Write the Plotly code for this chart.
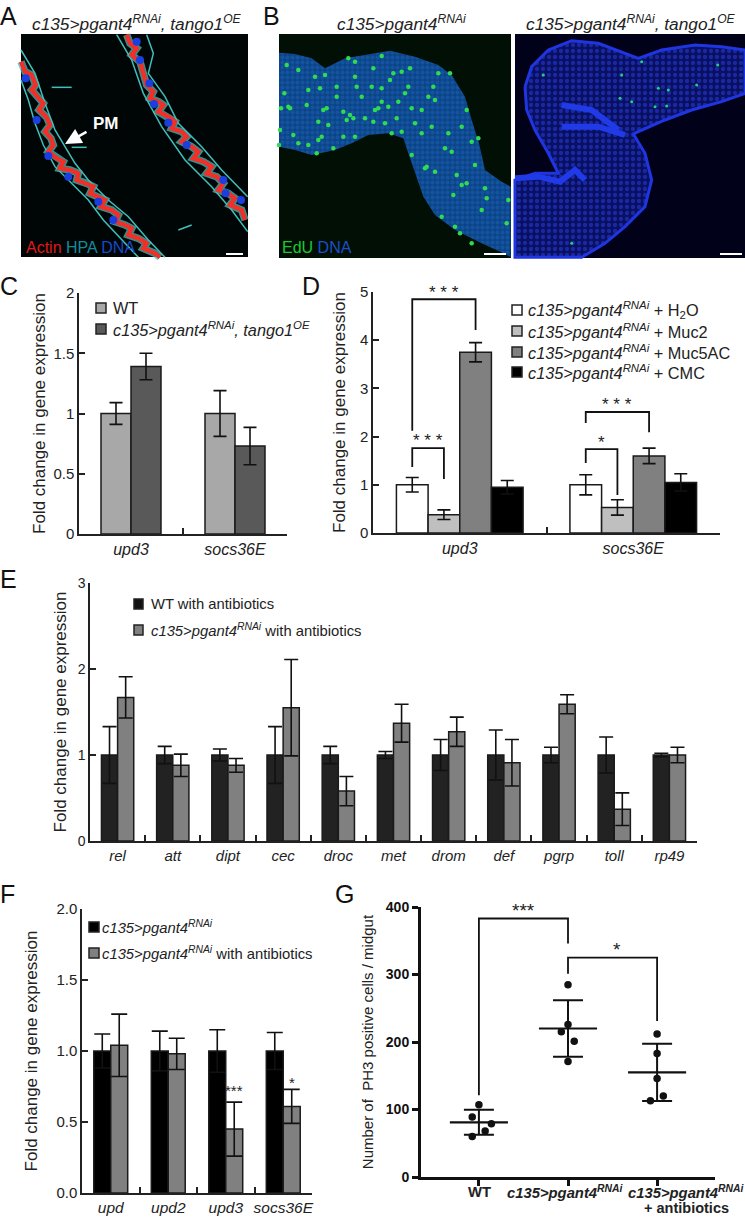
import plotly.graph_objects as go

W, H = 745, 1218
FONT = "Liberation Sans"
INK = "#222222"
PG = "c135&gt;pgant4<sup>RNAi</sup>"

# ---------- data ----------
c_cats = ["upd3", "socs36E"]
c_wt = [1.0, 1.0]
c_wt_err = [0.09, 0.19]
c_oe = [1.39, 0.73]
c_oe_err = [0.11, 0.155]

d_cats = ["upd3", "socs36E"]
d_h2o = [1.0, 1.0]
d_h2o_err = [0.15, 0.21]
d_muc2 = [0.38, 0.53]
d_muc2_err = [0.1, 0.16]
d_muc5 = [3.75, 1.6]
d_muc5_err = [0.2, 0.16]
d_cmc = [0.95, 1.05]
d_cmc_err = [0.14, 0.18]

e_cats = ["rel", "att", "dipt", "cec", "droc", "met", "drom", "def", "pgrp", "toll", "rp49"]
e_wt = [1, 1, 1, 1, 1, 1, 1, 1, 1, 1, 1]
e_wt_err = [0.33, 0.1, 0.07, 0.33, 0.1, 0.04, 0.18, 0.29, 0.09, 0.21, 0.02]
e_pg = [1.67, 0.88, 0.88, 1.55, 0.58, 1.37, 1.27, 0.91, 1.59, 0.37, 1.0]
e_pg_err = [0.24, 0.13, 0.08, 0.56, 0.17, 0.22, 0.17, 0.27, 0.11, 0.19, 0.09]

f_cats = ["upd", "upd2", "upd3", "socs36E"]
f_pg = [1, 1, 1, 1]
f_pg_err = [0.12, 0.14, 0.15, 0.13]
f_ab = [1.04, 0.98, 0.45, 0.61]
f_ab_err = [0.22, 0.11, 0.19, 0.12]

g_x_wt = [0, -0.075, 0.14, 0.07, -0.075]
g_y_wt = [107, 89, 79, 68, 60]
g_x_pg = [1, 1, 0.925, 1.07, 1]
g_y_pg = [285, 226, 215, 201, 171]
g_x_ab = [2, 2, 2, 2.07, 1.925]
g_y_ab = [212, 183, 146, 120, 113]
g_mean = [81, 220, 155]
g_sd = [18.5, 42, 42.5]

# ---------- drawing of the micrographs, in page pixels ----------
a_red_left = [(18,95),(30,125),(50,135),(62,165),(50,180),(70,205),(85,220),(72,240),(95,262),(105,285),(90,305),(108,325),(115,345),(100,365),(125,385),(145,395),(135,415),(165,420),(190,430),(185,450),(215,460),(235,470),(225,490),(250,500),(270,510),(258,530),(290,540),(310,555),(300,575),(330,585),(350,595),(340,615),(370,625),(395,640),(385,655),(420,670),(435,682)]
a_red_right = [(335,14),(345,40),(365,55),(350,75),(375,95),(385,130),(395,165),(415,185),(405,205),(430,215),(445,225),(430,245),(460,260),(480,275),(470,295),(500,305),(515,320),(500,335),(530,350),(550,365),(535,385),(565,395),(590,410),(575,430),(605,440),(625,460),(610,480),(640,490),(660,505),(645,525),(680,540),(690,570)]
a_cyan = [
    [(18,150),(40,210),(60,280),(85,345),(120,410),(170,460),(220,510),(265,570),(320,630),(370,682)],
    [(18,60),(60,130),(90,220),(120,300),(150,350),(180,400),(220,450),(280,510),(340,560),(400,630),(450,682)],
    [(395,14),(415,70),(400,130),(450,200),(490,280),(560,350),(620,420),(698,500)],
    [(305,14),(350,90),(385,190),(440,290),(510,390),(590,470),(650,540),(698,605)],
    [(110,172),(170,172)],
    [(170,352),(215,352)],
    [(490,600),(530,585)],
]
a_nuclei = [(32,145),(65,270),(100,378),(160,440),(250,515),(295,570),(365,35),(375,90),(403,160),(417,222),(460,278),(515,345),(625,450),(632,490),(678,510)]
b1_tissue = [(12,68),(60,72),(110,85),(150,115),(210,85),(280,72),(345,62),(420,80),(490,105),(530,135),(570,200),(590,270),(612,340),(630,420),(680,455),(707,470),(707,682),(690,672),(620,640),(540,600),(480,555),(445,500),(420,430),(400,370),(385,325),(340,310),(280,315),(230,340),(180,360),(110,375),(60,360),(12,350),(12,68)]
b1_green = [(28,190),(40,230),(18,235),(45,235),(35,105),(70,120),(15,300),(12,345),(55,315),(135,175),(155,235),(145,240),(130,275),(160,285),(140,320),(130,330),(205,245),(225,255),(235,265),(215,270),(185,200),(240,140),(240,95),(220,85),(295,115),(320,78),(355,130),(380,125),(405,115),(345,150),(290,170),(320,175),(320,215),(310,235),(300,240),(340,230),(370,215),(410,235),(440,240),(460,200),(480,210),(490,130),(525,130),(475,170),(270,265),(295,275),(330,280),(365,265),(380,305),(350,310),(205,320),(240,320),(175,355),(125,370),(70,340),(100,345),(410,375),(455,410),(450,415),(510,355),(530,365),(560,290),(590,335),(610,325),(575,240),(600,405),(545,435),(560,465),(575,460),(535,495),(630,475),(635,505),(700,510),(620,540),(695,580),(500,560),(540,590),(590,640),(555,610),(480,425),(470,290),(520,310),(440,310),(260,200),(245,170),(185,170),(100,180),(95,225),(120,140),(150,135),(390,190),(400,170),(420,280)]
b2_tissue = [(60,170),(80,110),(130,60),(200,32),(280,40),(350,65),(400,85),(470,60),(570,45),(650,50),(720,60),(720,190),(650,215),(560,240),(480,270),(400,305),(385,312),(420,370),(440,450),(420,530),(360,590),(300,640),(230,682),(30,682),(30,450),(90,430),(160,430),(130,370),(90,300),(65,240),(60,170)]
b2_bands = [
    [(170,225),(260,240),(340,300)],
    [(30,445),(100,440),(165,455),(210,420),(240,450)],
    [(170,290),(280,290),(360,315)],
]
b2_green = [(115,135),(350,135),(460,175),(490,180),(345,205),(380,215),(450,230),(485,228),(575,165),(638,105),(410,95),(200,640)]


def page(points, ox, oy):
    return [ox + p[0] / 3 for p in points], [oy + p[1] / 3 for p in points]


def dom_x(a, b):
    return [a / W, b / W]


def dom_y(top, bottom):
    return [1 - bottom / H, 1 - top / H]


fig = go.Figure()
shapes = []
ann = []


def line_trace(xs, ys, color, width, opacity=1.0):
    fig.add_trace(go.Scatter(x=xs, y=ys, mode="lines", line=dict(color=color, width=width),
                             opacity=opacity, xaxis="x", yaxis="y", hoverinfo="skip", showlegend=False))


def dots(xs, ys, color, size):
    fig.add_trace(go.Scatter(x=xs, y=ys, mode="markers", marker=dict(color=color, size=size, line=dict(width=0)),
                             xaxis="x", yaxis="y", hoverinfo="skip", showlegend=False))


def rect(x0, y0, x1, y1, fill):
    shapes.append(dict(type="rect", xref="x", yref="y", x0=x0, y0=y0, x1=x1, y1=y1,
                       fillcolor=fill, line=dict(width=0), layer="below"))


def text(x, y, s, size, color=INK, anchor="left", xref="x", yref="y", vanchor="middle"):
    ann.append(dict(x=x, y=y, xref=xref, yref=yref, text=s, showarrow=False, xanchor=anchor, yanchor=vanchor,
                    font=dict(family=FONT, size=size, color=color), borderpad=0, borderwidth=0))


# micrograph A
rect(21, 34, 248, 257, "#000606")
for seg in a_cyan:
    xs, ys = page(seg, 15, 30)
    line_trace(xs, ys, "#3fc0bc", 1.5)
for seg in (a_red_left, a_red_right):
    xs, ys = page(seg, 15, 30)
    line_trace(xs, ys, "#3fc0bc", 7.5, 0.75)
    line_trace(xs, ys, "#f03028", 4.5)
xs, ys = page(a_nuclei, 15, 30)
dots(xs, ys, "#1a3fe0", 8)
line_trace([226, 243], [254, 254], "#ffffff", 2)

# micrograph B left
rect(279, 34, 511, 258, "#020f04")
xs, ys = page(b1_tissue, 275, 30)
fig.add_trace(go.Scatter(x=xs, y=ys, mode="lines", fill="toself", line=dict(width=0, color="#1a66c0"),
                         fillcolor="#0f4c98",
                         fillpattern=dict(shape=".", size=5, solidity=0.5, fgcolor="#1864b8", bgcolor="#0d4488"),
                         xaxis="x", yaxis="y", hoverinfo="skip", showlegend=False))
xs, ys = page(b1_green, 275, 30)
dots(xs, ys, "#2fdc50", 4.5)
line_trace([484, 506], [254, 254], "#ffffff", 2)

# micrograph B right
rect(515, 34, 745, 258, "#01011a")
xs, ys = page(b2_tissue, 505, 30)
fig.add_trace(go.Scatter(x=xs, y=ys, mode="lines", fill="toself", line=dict(width=3, color="#1f35e0"),
                         fillcolor="#0a1060",
                         fillpattern=dict(shape=".", size=6, solidity=0.4, fgcolor="#2a40e8", bgcolor="#0a1060"),
                         xaxis="x", yaxis="y", hoverinfo="skip", showlegend=False))
for seg in b2_bands:
    xs, ys = page(seg, 505, 30)
    line_trace(xs, ys, "#1f3ae6", 6)
xs, ys = page(b2_green, 505, 30)
dots(xs, ys, "#20d080", 3)
line_trace([720, 742], [254, 254], "#ffffff", 2)

# arrow and labels in the micrographs
ann.append(dict(x=65, y=144, ax=88, ay=131, xref="x", yref="y", axref="x", ayref="y", text="", showarrow=True,
                arrowhead=2, arrowsize=1.3, arrowwidth=2.5, arrowcolor="#ffffff"))
text(93, 123, "<b>PM</b>", 17, "#ffffff")
text(26, 247, "<span style='color:#e01818'>Actin</span> <span style='color:#128a9c'>HPA</span> <span style='color:#1a48c8'>DNA</span>", 16)
text(282, 247, "<span style='color:#1cc832'>EdU</span> <span style='color:#1a50c8'>DNA</span>", 16)

# titles and panel letters
text(137, 23, "<i>" + PG + ", tango1<sup>OE</sup></i>", 17.3, anchor="center")
text(401, 23, "<i>" + PG + "</i>", 17.3, anchor="center")
text(631, 23, "<i>" + PG + ", tango1<sup>OE</sup></i>", 17.3, anchor="center")
for letter, lx, ly in [("A", 0, 16), ("B", 263, 16), ("C", 0, 286), ("D", 302, 286), ("E", 0, 579), ("F", 0, 894), ("G", 335, 894)]:
    text(lx, ly, letter, 25, "#111111")


def bar_group(xaxis, yaxis, cats, series, group_w, err_w, err_t=1.6):
    w = group_w / len(series)
    for j, (name, vals, errs, color) in enumerate(series):
        fig.add_trace(go.Bar(
            x=cats, y=vals, name=name, xaxis=xaxis, yaxis=yaxis, width=w,
            offset=(j - len(series) / 2) * w, marker=dict(color=color, line=dict(color="#1a1a1a", width=1.5)),
            error_y=dict(type="data", array=errs, color="#111111", thickness=err_t, width=err_w),
            showlegend=False))


bar_group("x2", "y2", c_cats, [("WT", c_wt, c_wt_err, "#a8a8a8"), ("c135>pgant4RNAi, tango1OE", c_oe, c_oe_err, "#595959")], 0.577, 6.5)
bar_group("x3", "y3", d_cats, [("H2O", d_h2o, d_h2o_err, "#ffffff"), ("Muc2", d_muc2, d_muc2_err, "#bfbfbf"),
                               ("Muc5AC", d_muc5, d_muc5_err, "#808080"), ("CMC", d_cmc, d_cmc_err, "#000000")], 0.73, 6.5)
bar_group("x4", "y4", e_cats, [("WT with antibiotics", e_wt, e_wt_err, "#222222"),
                               ("c135>pgant4RNAi with antibiotics", e_pg, e_pg_err, "#808080")], 0.585, 7)
bar_group("x5", "y5", f_cats, [("c135>pgant4RNAi", f_pg, f_pg_err, "#000000"),
                               ("c135>pgant4RNAi with antibiotics", f_ab, f_ab_err, "#808080")], 0.59, 8)


def swatch(x0, yc, w, h, fill):
    shapes.append(dict(type="rect", xref="x", yref="y", x0=x0, x1=x0 + w, y0=yc - h / 2, y1=yc + h / 2,
                       fillcolor=fill, line=dict(color="#222222", width=1.5)))


swatch(96, 308, 10, 10, "#a8a8a8")
text(113, 308, "WT", 16.3)
swatch(96, 329, 10, 10, "#595959")
text(113, 329, "<i>" + PG + ", tango1<sup>OE</sup></i>", 16.3)

for yc, fill, tail in [(310, "#ffffff", " + H<sub>2</sub>O"), (331, "#bfbfbf", " + Muc2"), (352, "#808080", " + Muc5AC"), (372, "#000000", " + CMC")]:
    swatch(512, yc, 10, 10, fill)
    text(528, yc, "<i>" + PG + "</i>" + tail, 16.3)

swatch(134, 604, 9, 10, "#111111")
text(151, 604, "WT with antibiotics", 14.8)
swatch(134, 630, 9, 10, "#808080")
text(151, 630, "<i>" + PG + "</i> with antibiotics", 14.8)

swatch(89, 927, 10, 10, "#000000")
text(102, 927, "<i>" + PG + "</i>", 14.8)
swatch(89, 953, 10, 10, "#808080")
text(102, 953, "<i>" + PG + "</i> with antibiotics", 14.8)


def bracket(xa, ya, x0, x1, y_left, y_top, y_right, lw=1.8):
    shapes.append(dict(type="path", xref=xa, yref=ya,
                       path=f"M {x0} {y_left} L {x0} {y_top} L {x1} {y_top} L {x1} {y_right}",
                       line=dict(color="#111111", width=lw), fillcolor="rgba(0,0,0,0)"))


bw = 0.1825
bracket("x3", "y3", -1.5 * bw, 0.5 * bw, 2.12, 4.85, 4.21)
bracket("x3", "y3", -1.5 * bw, -0.5 * bw, 1.37, 1.76, 1.12)
bracket("x3", "y3", 1 - 1.5 * bw, 1 + 0.5 * bw, 2.28, 2.51, 2.09)
bracket("x3", "y3", 1 - 1.5 * bw, 1 - 0.5 * bw, 1.45, 1.74, 0.79)
text(0 - 0.5 * bw, 4.98, "* * *", 17, anchor="center", xref="x3", yref="y3")
text(0 - bw, 1.92, "* * *", 17, anchor="center", xref="x3", yref="y3")
text(1 - 0.5 * bw, 2.66, "* * *", 17, anchor="center", xref="x3", yref="y3")
text(1 - bw, 1.87, "*", 17, anchor="center", xref="x3", yref="y3")

text(2 + 0.295 / 2, 0.72, "***", 15, anchor="center", xref="x5", yref="y5")
text(3 + 0.295 / 2, 0.78, "*", 15, anchor="center", xref="x5", yref="y5")

# panel G
for xs, ys in [(g_x_wt, g_y_wt), (g_x_pg, g_y_pg), (g_x_ab, g_y_ab)]:
    fig.add_trace(go.Scatter(x=xs, y=ys, mode="markers", xaxis="x6", yaxis="y6",
                             marker=dict(color="#111111", size=7.5), showlegend=False))
for i, (m, s) in enumerate(zip(g_mean, g_sd)):
    fig.add_trace(go.Scatter(x=[i], y=[m], mode="markers", marker=dict(size=0.1, color="#111111"), xaxis="x6", yaxis="y6",
                             error_y=dict(type="data", array=[s], color="#111111", thickness=2, width=15), showlegend=False))
    fig.add_trace(go.Scatter(x=[i - 0.326, i + 0.326], y=[m, m], mode="lines", xaxis="x6", yaxis="y6",
                             line=dict(color="#111111", width=2.2), showlegend=False))
bracket("x6", "y6", 0, 1, 121, 383, 346)
bracket("x6", "y6", 1, 2, 301, 325, 231)
text(0.5, 395, "***", 19, anchor="center", xref="x6", yref="y6")
text(1.55, 337, "*", 19, anchor="center", xref="x6", yref="y6")
text(479.5, 1192, "<b>WT</b>", 14.8, anchor="center")
text(565, 1192, "<b><i>" + PG + "</i></b>", 14.8, anchor="center")
text(686, 1192, "<b><i>" + PG + "</i></b>", 14.8, anchor="center")
text(686, 1208, "<b>+ antibiotics</b>", 14.5, anchor="center")


def cat_axis(left, right, bottom, anchor, n, size):
    return dict(domain=dom_x(left, right), anchor=anchor, range=[-0.5, n - 0.5], type="category", showgrid=False,
                zeroline=False, showline=True, linecolor="#222222", linewidth=1.5, ticks="inside", tickson="boundaries",
                ticklen=6, tickwidth=1.5, tickcolor="#222222", tickangle=0, automargin=False,
                tickfont=dict(family=FONT, size=size, color=INK, style="italic"))


def val_axis(top, bottom, anchor, rng, dtick, size, title, title_size, standoff, fmt=None):
    return dict(domain=dom_y(top, bottom), anchor=anchor, range=rng, dtick=dtick, showgrid=False, zeroline=False,
                showline=True, linecolor="#222222", linewidth=1.5, ticks="inside", ticklen=6, tickwidth=1.5, tickcolor="#222222",
                tickfont=dict(family=FONT, size=size, color=INK), tickformat=fmt, automargin=False,
                title=dict(text=title, font=dict(family=FONT, size=title_size, color=INK), standoff=standoff))


YT = "Fold change in gene expression"
fig.update_layout(
    width=W, height=H, autosize=False, margin=dict(l=0, r=0, t=0, b=0, pad=0, autoexpand=False),
    paper_bgcolor="#ffffff", plot_bgcolor="rgba(0,0,0,0)", showlegend=False, barmode="overlay",
    font=dict(family=FONT, color=INK),
    xaxis=dict(domain=[0, 1], range=[0, W], visible=False, anchor="y", fixedrange=True),
    yaxis=dict(domain=[0, 1], range=[H, 0], visible=False, anchor="x", fixedrange=True),
    xaxis2=cat_axis(79, 287, 534, "y2", 2, 16),
    yaxis2=val_axis(293, 534, "x2", [0, 2], 0.5, 15, YT, 17, 3),
    xaxis3=cat_axis(373, 720, 533, "y3", 2, 16),
    yaxis3=val_axis(292, 533, "x3", [0, 5], 1, 15, YT, 17, 10),
    xaxis4=cat_axis(90, 697, 841, "y4", 11, 15),
    yaxis4=val_axis(583, 841, "x4", [0, 3], 1, 14, YT, 17, 7),
    xaxis5=cat_axis(82, 312, 1193, "y5", 4, 15.5),
    yaxis5=val_axis(909, 1193, "x5", [0, 2], 0.5, 15, YT, 17, 14, ".1f"),
    xaxis6=dict(domain=dom_x(421, 715), anchor="y6", range=[-0.65, 2.65], showgrid=False, zeroline=False, showline=True,
                linecolor="#111111", linewidth=3, ticks="outside", ticklen=6, tickwidth=2.5, tickcolor="#111111",
                tickvals=[0, 1, 2], showticklabels=False),
    yaxis6=dict(domain=dom_y(907, 1177), anchor="x6", range=[0, 400], dtick=100, showgrid=False, zeroline=False, showline=True,
                linecolor="#111111", linewidth=3, ticks="outside", ticklen=6, tickwidth=2.5, tickcolor="#111111",
                tickfont=dict(family=FONT, size=14, color="#111111", weight="bold"),
                title=dict(text="Number of  PH3 positive cells / midgut", font=dict(family=FONT, size=15, color=INK), standoff=9)),
    shapes=shapes, annotations=ann,
)
POST = ("var g=document.querySelector('.plotly-graph-div');g.style.position='fixed';g.style.top='0';g.style.left='0';"
        "document.body.style.margin='0';document.body.style.height='1218px';document.documentElement.style.height='1218px';"
        "document.body.style.overflow='hidden';document.documentElement.style.overflow='hidden';")
fig.write_html("out.html", config=dict(displayModeBar=False), post_script=POST)
